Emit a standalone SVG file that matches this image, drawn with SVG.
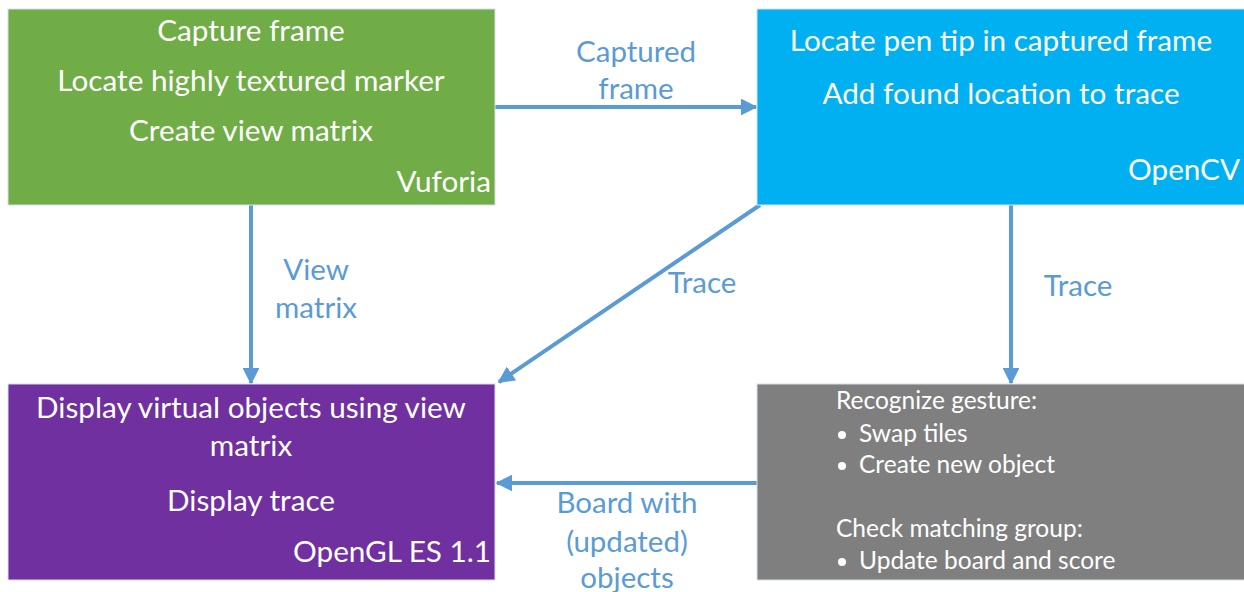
<svg xmlns="http://www.w3.org/2000/svg" width="1244" height="592" viewBox="0 0 1244 592">
<defs>
<style>
.box{stroke:#d6e0ec;stroke-width:1}
.t{font-family:Lato,"Open Sans","Liberation Sans",sans-serif;fill:#ffffff;font-size:29.7px}
.c{text-anchor:middle}
.r{text-anchor:end}
.s{font-family:Lato,"Open Sans","Liberation Sans",sans-serif;fill:#ffffff;font-size:24.5px}
.lbl{font-family:Lato,"Open Sans","Liberation Sans",sans-serif;fill:#5B9BD5;font-size:29.5px;text-anchor:middle}
.conn{stroke:#5B9BD5;stroke-width:4;fill:none}
</style>
<marker id="arr" viewBox="0 0 10 10" refX="9" refY="5" markerWidth="4.2" markerHeight="4.2" orient="auto" markerUnits="strokeWidth">
<path d="M0,0 L10,5 L0,10 z" fill="#5B9BD5"/>
</marker>
</defs>
<rect width="1244" height="592" fill="#ffffff"/>
<g id="connectors">
<line class="conn" x1="495" y1="107" x2="756" y2="107" marker-end="url(#arr)"/>
<line class="conn" x1="251" y1="205" x2="251" y2="383" marker-end="url(#arr)"/>
<line class="conn" x1="760" y1="205" x2="499" y2="382" marker-end="url(#arr)"/>
<line class="conn" x1="1011" y1="205" x2="1011" y2="383" marker-end="url(#arr)"/>
<line class="conn" x1="757" y1="483" x2="497" y2="483" marker-end="url(#arr)"/>
<text class="lbl" x="636" y="62">Captured</text>
<text class="lbl" x="636" y="99">frame</text>
<text class="lbl" x="316" y="280">View</text>
<text class="lbl" x="316" y="318">matrix</text>
<text class="lbl" x="702" y="293">Trace</text>
<text class="lbl" x="1078" y="296">Trace</text>
<text class="lbl" x="627" y="513">Board with</text>
<text class="lbl" x="627" y="552">(updated)</text>
<text class="lbl" x="627" y="588">objects</text>
</g>
<g id="vuforia">
<rect class="box" x="8" y="9" width="487" height="196" fill="#70AD47"/>
<text class="t c" x="251" y="41">Capture frame</text>
<text class="t c" x="251" y="91">Locate highly textured marker</text>
<text class="t c" x="251" y="141">Create view matrix</text>
<text class="t r" x="491" y="192">Vuforia</text>
</g>
<g id="opencv">
<rect class="box" x="757" y="9" width="490" height="196" fill="#00B0F0"/>
<text class="t c" x="1001" y="51">Locate pen tip in captured frame</text>
<text class="t c" x="1001" y="104">Add found location to trace</text>
<text class="t r" x="1240" y="180">OpenCV</text>
</g>
<g id="opengl">
<rect class="box" x="8" y="384" width="487" height="196" fill="#7030A0"/>
<text class="t c" x="251" y="418">Display virtual objects using view</text>
<text class="t c" x="251" y="456">matrix</text>
<text class="t c" x="251" y="511">Display trace</text>
<text class="t r" x="491" y="562">OpenGL ES 1.1</text>
</g>
<g id="gesture">
<rect class="box" x="757" y="384" width="490" height="196" fill="#7F7F7F"/>
<text class="s" x="836" y="409">Recognize gesture:</text>
<circle cx="842" cy="435" r="4" fill="#ffffff"/>
<text class="s" x="859" y="442">Swap tiles</text>
<circle cx="842" cy="466" r="4" fill="#ffffff"/>
<text class="s" x="859" y="473">Create new object</text>
<text class="s" x="836" y="537">Check matching group:</text>
<circle cx="842" cy="562" r="4" fill="#ffffff"/>
<text class="s" x="859" y="569">Update board and score</text>
</g>
</svg>
